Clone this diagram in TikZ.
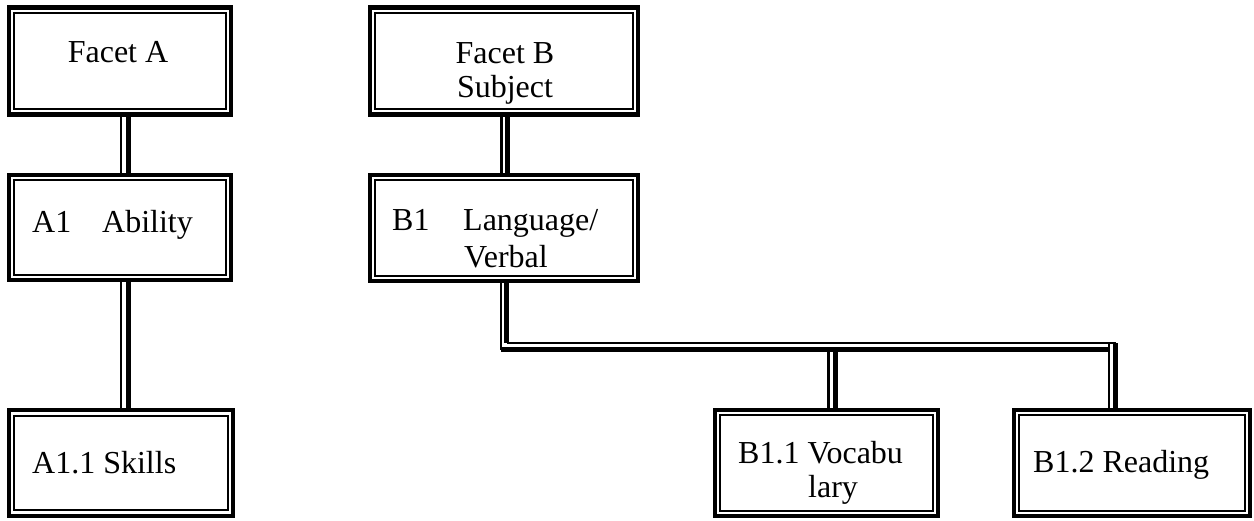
\documentclass[tikz,border=0pt]{standalone}
\usepackage{fontspec}
\setmainfont{Liberation Serif}
\usetikzlibrary{calc}
\begin{document}
\begin{tikzpicture}[x=1pt,y=-1pt,
  dbox/.style={draw, line width=4.2pt, outer sep=0pt, inner sep=0pt,
    path picture={\draw[line width=2pt]
      ([shift={(5.3pt,-5.3pt)}]path picture bounding box.north west) rectangle
      ([shift={(-5.3pt,5.3pt)}]path picture bounding box.south east);}},
  thinln/.style={line width=2.1pt},
  thickln/.style={line width=4.8pt},
  lbl/.style={inner sep=0pt, font=\fontsize{32}{35}\selectfont},
]
\useasboundingbox (0,0) rectangle (1254,520);
% boxes
\node[dbox, minimum width=222pt, minimum height=107pt] (fa) at (120,61) {};
\node[dbox, minimum width=222pt, minimum height=105pt] (a1) at (120,227.5) {};
\node[dbox, minimum width=224pt, minimum height=105.5pt] (a11) at (121,463) {};
\node[dbox, minimum width=268pt, minimum height=107pt] (fb) at (504,61) {};
\node[dbox, minimum width=268pt, minimum height=106pt] (b1) at (504,228) {};
\node[dbox, minimum width=223pt, minimum height=106pt] (b11) at (826.5,463) {};
\node[dbox, minimum width=236pt, minimum height=106pt] (b12) at (1132,463) {};
% texts
\node[lbl, anchor=base] (tfa) at (118,62) {Facet A};
\node[lbl, anchor=base] (tfb1) at (505,63) {Facet B};
\node[lbl, anchor=base] (tfb2) at (505,97) {Subject};
\node[lbl, anchor=base west] (ta1a) at (32,232) {A1};
\node[lbl, anchor=base west] (ta1b) at (102,232) {Ability};
\node[lbl, anchor=base west] (tb1a) at (392,230) {B1};
\node[lbl, anchor=base west] (tb1b) at (463,230) {Language/};
\node[lbl, anchor=base] (tb1c) at (506,267) {Verbal};
\node[lbl, anchor=base west] (ta11) at (32,473) {A1.1 Skills};
\node[lbl, anchor=base west] (tb11a) at (738,463) {B1.1 Vocabu};
\node[lbl, anchor=base west] (tb11b) at (808,497) {lary};
\node[lbl, anchor=base west] (tb12) at (1033,472) {B1.2 Reading};
% connectors A
\draw[thinln] ($(fa.south)+(1,0)$) -- ($(a1.north)+(1,0)$);
\draw[thickln] ($(fa.south)+(8.5,0)$) -- ($(a1.north)+(8.5,0)$);
\draw[thinln] ($(a1.south)+(1,0)$) -- ($(a11.north)+(0,0)$);
\draw[thickln] ($(a1.south)+(8.5,0)$) -- ($(a11.north)+(7.5,0)$);
% connectors B
\draw[thinln] ($(fb.south)+(-2.5,0)$) -- ($(b1.north)+(-2.5,0)$);
\draw[thickln] ($(fb.south)+(3.5,0)$) -- ($(b1.north)+(3.5,0)$);
\coordinate (p1) at ($(b1.south)+(-3,0)$);
\coordinate (p2) at ($(b1.south)+(2.5,0)$);
\coordinate (q1) at ($(b12.north)+(-23,0)$);
\coordinate (q2) at ($(b12.north)+(-16.5,0)$);
\coordinate (r1) at ($(b11.north)+(2,0)$);
\coordinate (r2) at ($(b11.north)+(9,0)$);
\coordinate (busT) at (0,343);
\coordinate (busB) at (0,349.5);
\draw[thinln] (p1) -- (p1 |- busB);
\draw[thickln] (p2) -- (p2 |- busT);
\draw[thinln] (p2 |- busT) -- (q2 |- busT);
\draw[thickln] (p1 |- busB) -- (q1 |- busB);
\draw[thinln] (q1 |- busT) -- (q1);
\draw[thickln] (q2 |- busT) -- (q2);
\draw[thinln] (r1 |- busB) -- (r1);
\draw[thickln] (r2 |- busB) -- (r2);
\end{tikzpicture}
\end{document}
